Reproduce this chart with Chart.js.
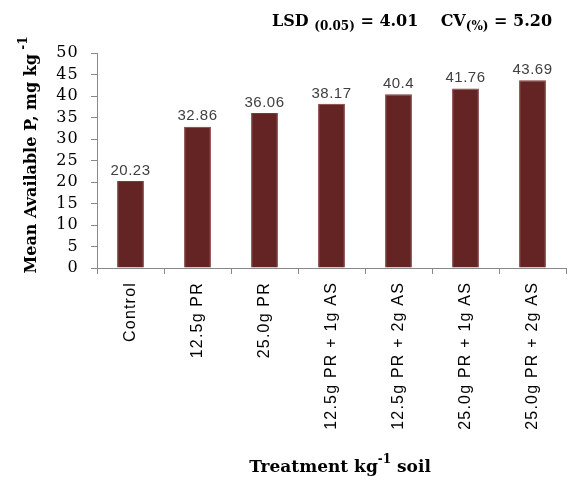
<!DOCTYPE html>
<html><head><meta charset="utf-8">
<script src="https://cdn.jsdelivr.net/npm/chart.js@4/dist/chart.umd.min.js"></script>
<style>html,body{margin:0;padding:0;background:#fff}#wrap{width:573px;height:480px}</style>
</head><body><div id="wrap"><canvas id="c" width="573" height="480"></canvas></div>
<script>
const categories = ["Control","12.5g PR","25.0g PR","12.5g PR + 1g AS","12.5g PR + 2g AS","25.0g PR + 1g AS","25.0g PR + 2g AS"];
const meanP = [20.23, 32.86, 36.06, 38.17, 40.4, 41.76, 43.69];
const valueLabels = ["20.23","32.86","36.06","38.17","40.4","41.76","43.69"];
const yTicks = [0,5,10,15,20,25,30,35,40,45,50];

const SERIF = '"DejaVu Serif", serif';
const SANS = '"Liberation Sans", Arial, sans-serif';

function drawParts(ctx, parts, x, y, align) {
  let total = 0;
  parts.forEach(p => { ctx.font = 'bold ' + p.size + 'px ' + SERIF; p.w = ctx.measureText(p.t).width; total += p.w; });
  let cx = align === 'center' ? x - total/2 : x;
  ctx.textAlign = 'left';
  parts.forEach(p => { ctx.font = 'bold ' + p.size + 'px ' + SERIF; ctx.fillText(p.t, cx, y + (p.dy||0)); cx += p.w; });
}

const annot = {
  id: 'annot',
  beforeDraw(chart) { chart.ctx.letterSpacing = '1.2px'; },
  afterDatasetsDraw(chart) {
    const ctx = chart.ctx;
    ctx.save();
    ctx.letterSpacing = '0.5px';
    const meta = chart.getDatasetMeta(0);
    ctx.fillStyle = '#404040';
    ctx.font = '15px ' + SANS;
    ctx.textAlign = 'center';
    ctx.textBaseline = 'bottom';
    meta.data.forEach((bar, i) => { ctx.fillText(valueLabels[i], bar.x, bar.y - 3); });
    ctx.letterSpacing = '0px';
    ctx.fillStyle = '#000';
    ctx.textBaseline = 'alphabetic';
    drawParts(ctx, [
      {t:'LSD ', size:16}, {t:'(0.05)', size:12, dy:4}, {t:' = 4.01    CV', size:16}, {t:'(%)', size:12, dy:4}, {t:' = 5.20', size:16}
    ], 272, 26, 'left');
    drawParts(ctx, [{t:'Treatment kg', size:17}, {t:'-1', size:12, dy:-9}, {t:' soil', size:17}], 340, 472, 'center');
    ctx.translate(36, 155);
    ctx.rotate(-Math.PI/2);
    drawParts(ctx, [{t:'Mean Available P, mg kg', size:16}, {t:' -1', size:12, dy:-9}], 0, 0, 'center');
    ctx.restore();
  },
  afterDraw(chart) { chart.ctx.letterSpacing = '0px'; }
};

new Chart(document.getElementById('c'), {
  type: 'bar',
  data: { labels: categories, datasets: [{ data: meanP, backgroundColor: '#632423', borderColor: '#7a3a38', borderWidth: 1, categoryPercentage: 1, barPercentage: 0.4 }] },
  options: {
    responsive: false, animation: false,
    layout: { padding: { top: 53, right: 7, left: 0, bottom: 0 } },
    plugins: { legend: { display: false }, tooltip: { enabled: false } },
    scales: {
      x: {
        grid: { display: true, drawOnChartArea: false, offset: true, tickLength: 6, color: '#888' },
        border: { color: '#888' },
        ticks: { minRotation: 90, maxRotation: 90, autoSkip: false, color: '#000', font: { family: SANS, size: 16 }, padding: 8 },
        afterFit(s) { s.height = 212; }
      },
      y: {
        min: 0, max: 50,
        afterBuildTicks(s) { s.ticks = yTicks.map(v => ({ value: v })); },
        grid: { display: true, drawOnChartArea: false, tickLength: 6, color: '#888' },
        border: { color: '#888' },
        ticks: { autoSkip: false, color: '#000', font: { family: SERIF, size: 16 }, padding: 12 },
        afterFit(s) { s.width = 97; }
      }
    }
  },
  plugins: [annot]
});
</script></body></html>
